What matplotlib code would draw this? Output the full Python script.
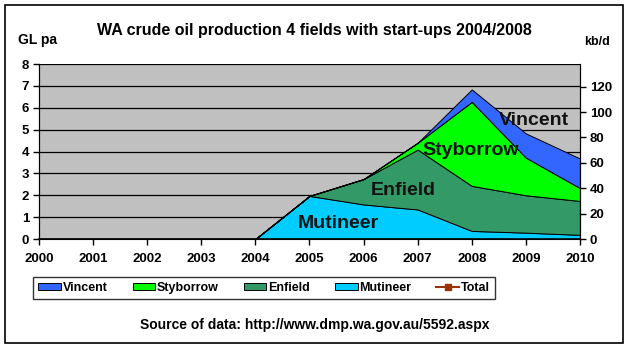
import matplotlib
matplotlib.use("Agg")
import matplotlib.pyplot as plt
from matplotlib.patches import Rectangle
from matplotlib.lines import Line2D
import numpy as np

plt.rcParams['font.family'] = ['Liberation Sans', 'DejaVu Sans']
plt.rcParams['font.weight'] = 'bold'

years = np.arange(2000, 2011)
# GL per annum
mutineer = [0, 0, 0, 0, 0, 1.97, 1.58, 1.35, 0.37, 0.29, 0.19]
enfield = [0, 0, 0, 0, 0, 0, 1.16, 2.74, 2.06, 1.71, 1.55]
styborrow = [0, 0, 0, 0, 0, 0, 0, 0.31, 3.84, 1.72, 0.59]
vincent = [0, 0, 0, 0, 0, 0, 0, 0, 0.57, 1.11, 1.35]

names = ['Mutineer', 'Enfield', 'Styborrow', 'Vincent']
colors = ['#00CCFF', '#339966', '#00FF00', '#3366FF']
series = [mutineer, enfield, styborrow, vincent]
GL_TO_KBD = 17.23

fig = plt.figure(figsize=(6.29, 3.52), dpi=100)
ax = fig.add_axes([0.062, 0.321, 0.860, 0.497])
ax.set_facecolor('#C0C0C0')

base = np.zeros(len(years))
for name, col, s in zip(names, colors, series):
    top = base + np.array(s)
    ax.fill_between(years, base, top, facecolor=col, edgecolor='black',
                    linewidth=0.7, zorder=2)
    base = top

ax.set_xlim(2000, 2010)
ax.set_ylim(0, 8)
ax.set_xticks(years)
ax.set_yticks(range(0, 9))
ax.yaxis.grid(True, color='black', linewidth=0.9, zorder=1)
ax.set_axisbelow(True)
ax.tick_params(labelsize=9.5, length=4, width=1, pad=3)
ax.tick_params(axis='x', pad=6)
ax.spines['top'].set_visible(False)
ax.spines['bottom'].set_linewidth(1.2)

ax2 = ax.twinx()
ax2.set_ylim(0, 8 * GL_TO_KBD)
ax2.set_yticks(range(0, 121, 20))
ax2.tick_params(labelsize=9.5, length=4, width=1, pad=3)
ax2.spines['top'].set_visible(False)

label_pos = {'Mutineer': (2005.53, 0.73), 'Enfield': (2006.73, 2.24),
             'Styborrow': (2007.97, 4.06), 'Vincent': (2009.15, 5.43)}
for name in names:
    x, y = label_pos[name]
    ax.text(x, y, name, fontsize=14, fontweight='bold', ha='center',
            va='center', color='#111111', zorder=5)

fig.text(0.50, 0.912, 'WA crude oil production 4 fields with start-ups 2004/2008',
         ha='center', va='center', fontsize=11.5, fontweight='bold')
fig.text(0.029, 0.885, 'GL pa', ha='left', va='center', fontsize=10, fontweight='bold')
fig.text(0.928, 0.88, 'kb/d', ha='left', va='center', fontsize=9, fontweight='bold')

handles = [Rectangle((0, 0), 1, 1, facecolor=c, edgecolor='black', linewidth=0.7)
           for c in colors[::-1]]
handles.append(Line2D([0], [0], color='#993300', marker='s', markersize=5))
leg = fig.legend(handles, names[::-1] + ['Total'], loc='center',
                 bbox_to_anchor=(0.42, 0.182), ncol=5, fontsize=9,
                 frameon=True, fancybox=False, handlelength=1.8,
                 handleheight=0.5, columnspacing=2.0, handletextpad=0.15,
                 borderpad=0.4)
leg.get_frame().set_edgecolor('black')
leg.get_frame().set_linewidth(1)

fig.text(0.50, 0.077, 'Source of data: http://www.dmp.wa.gov.au/5592.aspx',
         ha='center', va='center', fontsize=10, fontweight='bold')

fig.patches.append(Rectangle((0.008, 0.026), 0.983, 0.960, transform=fig.transFigure,
                             fill=False, edgecolor='black', linewidth=1.2))

fig.savefig('out.png', dpi=100)
